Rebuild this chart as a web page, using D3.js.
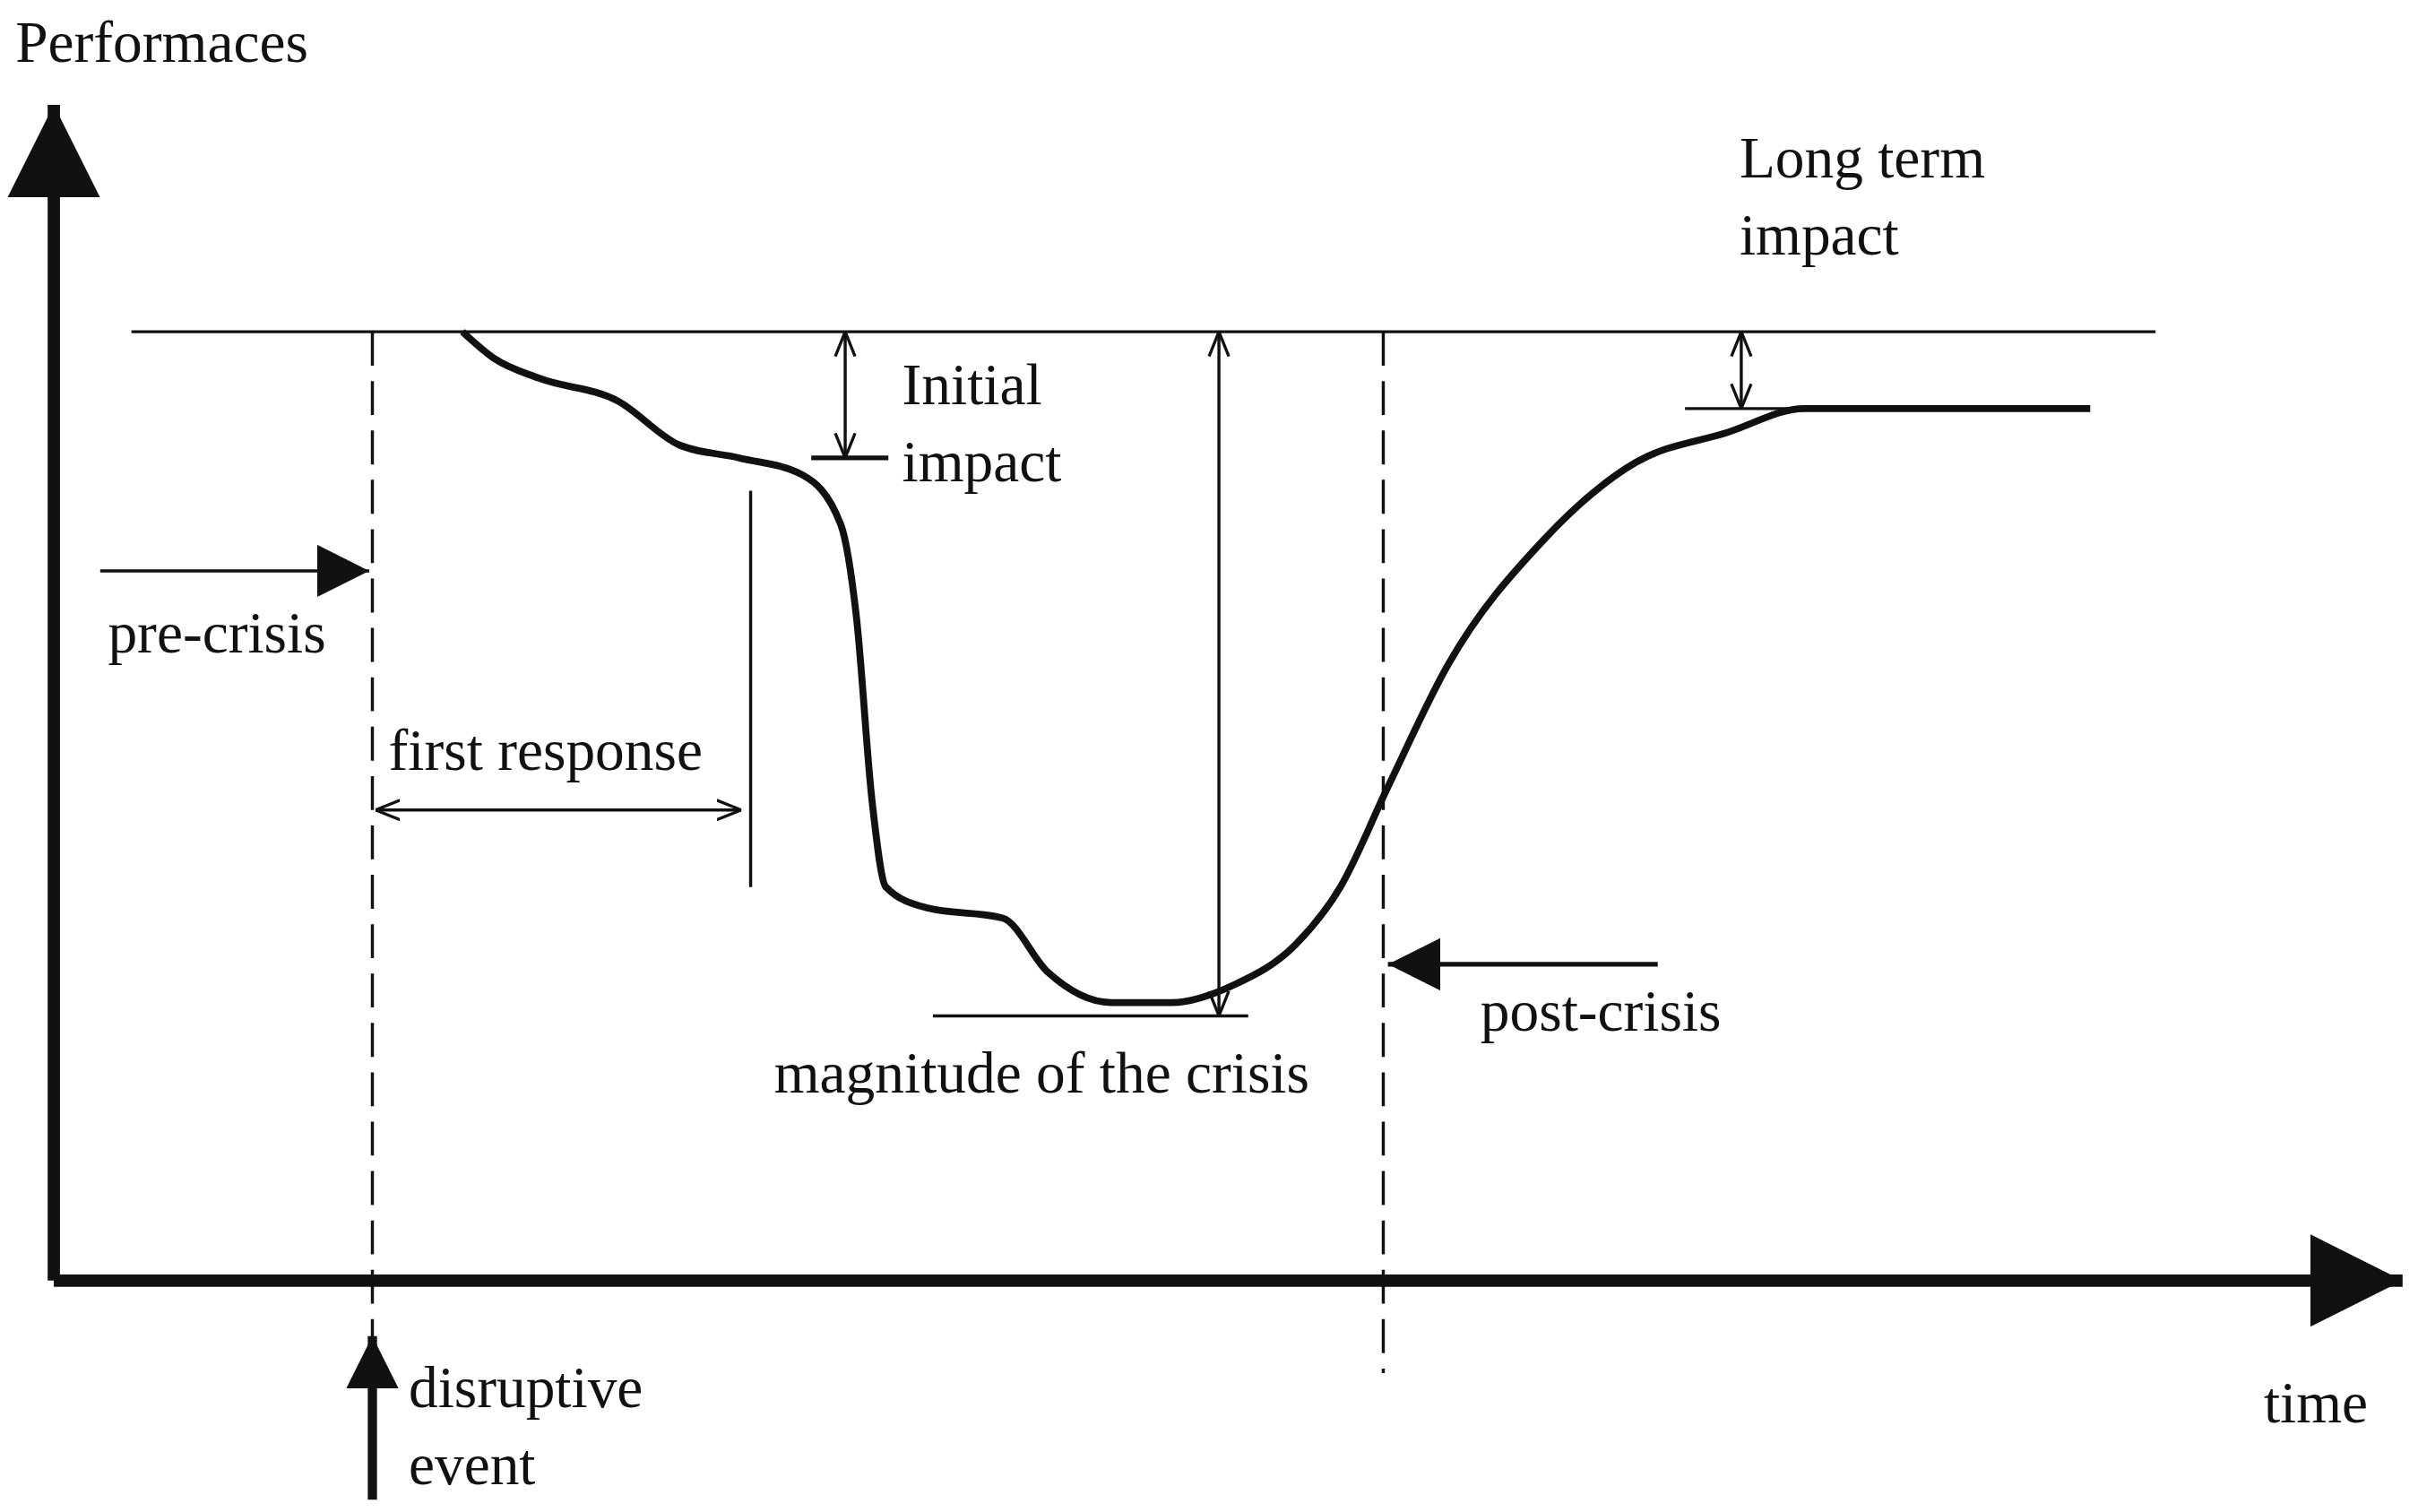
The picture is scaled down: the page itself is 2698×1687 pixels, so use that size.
<!DOCTYPE html>
<html><head><meta charset="utf-8">
<script src="https://cdn.jsdelivr.net/npm/d3@7"></script>
<style>body{margin:0;background:#fff}svg{display:block}text{font-family:"Liberation Serif",serif;font-size:38px;fill:#111}</style>
</head><body><div id="chart"></div>
<script>
// ---------------------  DATA  --------------------- //
const curveTime = [17.8,19.2,21.2,24.7,27.4,30.1,32.9,34.6,35.3,36.0,36.6,38.4,41.8,43.8,46.6,49.3,52.1,54.8,56.8,58.9,61.6,65.8,69.9,74.0,77.4,90.1];
const curvePerf = [100,97.2,95.1,92.7,88.1,86.7,84.9,79.7,69.9,50.4,41.5,39.3,38.2,32.5,29.3,29.3,31.2,35.4,41.5,52.0,65.0,78.0,86.2,89.4,91.9,91.9];
const eventTimes = [13.8, 58.7];          // disruptive event, start of post-crisis
const firstResponseEnd = 30.6;
const initialImpact = {t: 34.8, perf: 86.7};
const magnitude = {t: 51.4, perf: 27.9};
const longTerm = {t: 74.6, perf: 91.9};
const labels = [
  {text: 'Performaces', x: 10, y: 40},
  {text: 'Long term', x: 1128, y: 115}, {text: 'impact', x: 1128, y: 165},
  {text: 'Initial', x: 585, y: 262}, {text: 'impact', x: 585, y: 312},
  {text: 'pre-crisis', x: 70, y: 423},
  {text: 'first response', x: 252, y: 499},
  {text: 'magnitude of the crisis', x: 502, y: 708},
  {text: 'post-crisis', x: 960, y: 668},
  {text: 'disruptive', x: 265, y: 912}, {text: 'event', x: 265, y: 962},
  {text: 'time', x: 1468, y: 922}
];

// ---------------------  SETUP  --------------------- //
const W = 1568, H = 980;
const svg = d3.select('#chart').append('svg')
  .attr('width', 2698).attr('height', 1687)
  .attr('viewBox', `0 0 ${W} ${H}`).attr('preserveAspectRatio', 'none');

const x = d3.scaleLinear().domain([0, 100]).range([40, 1500]);
const y = d3.scaleLinear().domain([0, 100]).range([830, 215]);

const defs = svg.append('defs');
const marker = (id, size) => defs.append('marker').attr('id', id)
  .attr('viewBox', '0 0 10 10').attr('refX', 10).attr('refY', 5)
  .attr('markerWidth', size).attr('markerHeight', size).attr('orient', 'auto-start-reverse')
  .attr('markerUnits', 'userSpaceOnUse')
  .append('path').attr('d', 'M0,0 L10,5 L0,10 z').attr('fill', '#111');
marker('big', 60);
marker('mid', 34);
defs.append('marker').attr('id', 'open')
  .attr('viewBox', '0 0 10 10').attr('refX', 10).attr('refY', 5)
  .attr('markerWidth', 16).attr('markerHeight', 16).attr('orient', 'auto-start-reverse')
  .attr('markerUnits', 'userSpaceOnUse')
  .append('path').attr('d', 'M0,1 L10,5 L0,9').attr('fill', 'none').attr('stroke', '#111').attr('stroke-width', 1.2);

const line = (x1, y1, x2, y2, w = 2) => svg.append('line')
  .attr('x1', x1).attr('y1', y1).attr('x2', x2).attr('y2', y2)
  .attr('stroke', '#111').attr('stroke-width', w);

// ---------------------  AXES  --------------------- //
line(x(-0.35), y(0), x(-0.35), 68, 8).attr('marker-end', 'url(#big)');
line(x(-0.35), y(0), 1558, y(0), 8).attr('marker-end', 'url(#big)');

// baseline performance
line(x(3.1), y(100), x(93), y(100), 2);

// dashed event lines
line(x(eventTimes[0]), y(100), x(eventTimes[0]), 870, 2).attr('stroke-dasharray', '22,10');
line(x(eventTimes[1]), y(100), x(eventTimes[1]), 890, 2).attr('stroke-dasharray', '22,10');

// ---------------------  CURVE  --------------------- //
const pts = curveTime.map((t, i) => [t, curvePerf[i]]);
svg.append('path').datum(pts)
  .attr('d', d3.line().x(d => x(d[0])).y(d => y(d[1])).curve(d3.curveMonotoneX))
  .attr('fill', 'none').attr('stroke', '#111').attr('stroke-width', 4.5);

// ---------------------  ANNOTATIONS  --------------------- //
// initial impact
line(x(initialImpact.t), y(100), x(initialImpact.t), y(initialImpact.perf), 2)
  .attr('marker-start', 'url(#open)').attr('marker-end', 'url(#open)');
line(x(initialImpact.t) - 22, y(initialImpact.perf), x(initialImpact.t) + 28, y(initialImpact.perf), 3);
// magnitude
line(x(magnitude.t), y(100), x(magnitude.t), y(magnitude.perf), 2)
  .attr('marker-start', 'url(#open)').attr('marker-end', 'url(#open)');
line(x(38.7), y(magnitude.perf), x(52.7), y(magnitude.perf), 2);
// long term
line(x(longTerm.t), y(100), x(longTerm.t), y(longTerm.perf), 2)
  .attr('marker-start', 'url(#open)').attr('marker-end', 'url(#open)');
line(x(72.1), y(longTerm.perf), x(77.1), y(longTerm.perf), 2);
// first response
line(x(30.6), 318, x(30.6), 575, 2);
line(x(eventTimes[0]) + 2, 525, x(firstResponseEnd) - 6, 525, 2)
  .attr('marker-start', 'url(#open)').attr('marker-end', 'url(#open)');
// pre-crisis
line(65, 370, x(eventTimes[0]) - 2, 370, 2).attr('marker-end', 'url(#mid)');
// post-crisis
line(1075, 625, x(eventTimes[1]) + 3, 625, 3).attr('marker-end', 'url(#mid)');
// disruptive event
line(x(eventTimes[0]), 972, x(eventTimes[0]), 866, 6).attr('marker-end', 'url(#mid)');

// ---------------------  LABELS  --------------------- //
svg.selectAll('text.lbl').data(labels).join('text').attr('class', 'lbl')
  .attr('x', d => d.x).attr('y', d => d.y).text(d => d.text);
</script></body></html>
